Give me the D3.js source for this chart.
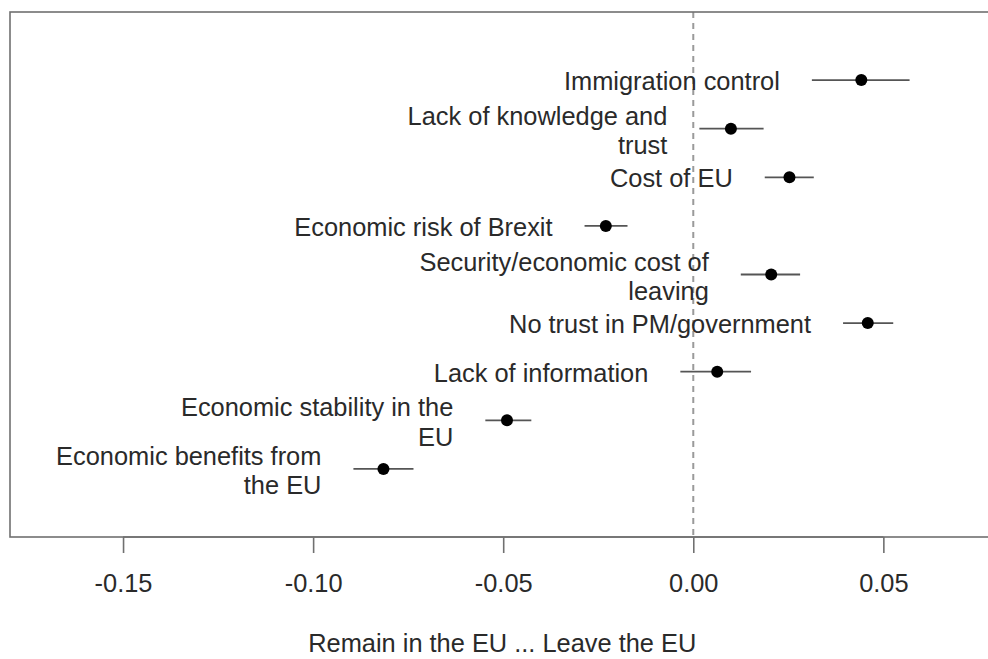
<!DOCTYPE html>
<html>
<head>
<meta charset="utf-8">
<script src="https://cdn.jsdelivr.net/npm/d3@7"></script>
<style>
  html, body { margin: 0; padding: 0; background: #fff; }
  svg { display: block; }
  text { font-family: "Liberation Sans", Arial, sans-serif; }
</style>
</head>
<body>
<svg id="chart" width="988" height="659"></svg>
<script>
// ---- data (top to bottom) ----
const categories = [
  ["Immigration control"],
  ["Lack of knowledge and", "trust"],
  ["Cost of EU"],
  ["Economic risk of Brexit"],
  ["Security/economic cost of", "leaving"],
  ["No trust in PM/government"],
  ["Lack of information"],
  ["Economic stability in the", "EU"],
  ["Economic benefits from", "the EU"]
];
const estimates = [0.0442, 0.0099, 0.0253, -0.0230, 0.0205, 0.0459, 0.0063, -0.0490, -0.0815];
const ciLow     = [0.0312, 0.0016, 0.0188, -0.0286, 0.0125, 0.0394, -0.0034, -0.0547, -0.0894];
const ciHigh    = [0.0569, 0.0185, 0.0317, -0.0173, 0.0281, 0.0526, 0.0152, -0.0426, -0.0736];
const tickValues = [-0.15, -0.10, -0.05, 0.00, 0.05];
const tickLabels = ["-0.15", "-0.10", "-0.05", "0.00", "0.05"];
const xTitle = "Remain in the EU ... Leave the EU";

// ---- layout ----
const svg = d3.select("#chart");
const box = { left: 10, top: 12, bottom: 537, right: 1005 };
const x = d3.scaleLinear().domain([-0.18, 0.082]).range([9, 1005]);
const n = categories.length;
const y = d3.scaleLinear().domain([-0.4, n + 1.4]).range([box.bottom, box.top]);
const rowPos = i => y(n - i);

const textColor = "#2a2a2a";
const fs = "25.4px";

// zero reference line
svg.append("line")
  .attr("x1", x(0)).attr("x2", x(0))
  .attr("y1", box.top).attr("y2", box.bottom)
  .attr("stroke", "#9a9a9a").attr("stroke-width", 2)
  .attr("stroke-dasharray", "6,5");

// plot box
svg.append("rect")
  .attr("x", box.left).attr("y", box.top)
  .attr("width", box.right - box.left).attr("height", box.bottom - box.top)
  .attr("fill", "none").attr("stroke", "#707070").attr("stroke-width", 1.6);

// x axis
const axis = d3.axisBottom(x).tickValues(tickValues)
  .tickFormat((d, i) => tickLabels[i]).tickSize(16).tickPadding(21);
const gAxis = svg.append("g").attr("transform", `translate(0,${box.bottom})`).call(axis);
gAxis.select(".domain").attr("stroke", "#707070").attr("stroke-width", 1.6)
  .attr("d", `M${x(-0.15)},0H${x(0.05)}`);
gAxis.selectAll(".tick line").attr("stroke", "#707070").attr("stroke-width", 1.6);
gAxis.selectAll(".tick text").attr("fill", textColor)
  .style("font-size", fs).style("font-family", "'Liberation Sans', Arial, sans-serif");

// axis title
svg.append("text")
  .attr("x", x(0) - 191).attr("y", 643)
  .attr("text-anchor", "middle").attr("dominant-baseline", "central")
  .attr("fill", textColor).style("font-size", fs)
  .text(xTitle);

// error bars
const rows = svg.append("g");
categories.forEach((lab, i) => {
  const cy = rowPos(i);
  rows.append("line")
    .attr("x1", x(ciLow[i])).attr("x2", x(ciHigh[i]))
    .attr("y1", cy).attr("y2", cy)
    .attr("stroke", "#555").attr("stroke-width", 1.8);
  rows.append("circle")
    .attr("cx", x(estimates[i])).attr("cy", cy).attr("r", 6)
    .attr("fill", "#000");
  const t = rows.append("text")
    .attr("text-anchor", "end")
    .attr("fill", textColor).style("font-size", fs);
  const tx = x(ciLow[i]) - 32;
  if (lab.length === 1) {
    t.append("tspan").attr("x", tx).attr("y", cy + 1).attr("dominant-baseline", "central").text(lab[0]);
  } else {
    t.append("tspan").attr("x", tx).attr("y", cy - 13).attr("dominant-baseline", "central").text(lab[0]);
    t.append("tspan").attr("x", tx).attr("y", cy + 16.5).attr("dominant-baseline", "central").text(lab[1]);
  }
});
</script>
</body>
</html>
